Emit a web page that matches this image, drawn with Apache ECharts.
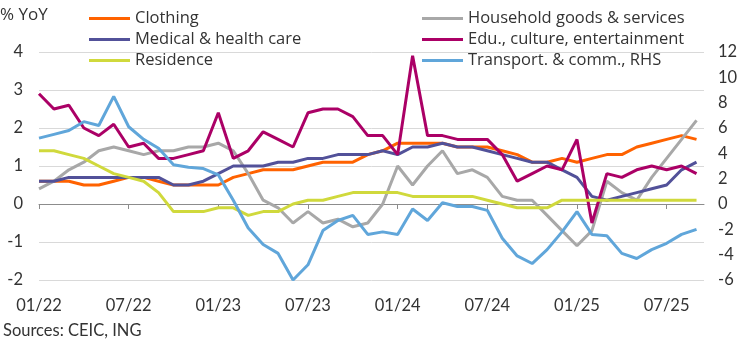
<!DOCTYPE html>
<html>
<head>
<meta charset="utf-8">
<script src="https://cdn.jsdelivr.net/npm/echarts@6/dist/echarts.min.js"></script>
<style>
html,body{margin:0;padding:0;background:#fff;}
#chart{width:744px;height:343px;}
</style>
</head>
<body>
<div id="chart"></div>
<script>
// Months 01/22 .. 09/25
const months = ['01/22','02/22','03/22','04/22','05/22','06/22','07/22','08/22','09/22','10/22','11/22','12/22',
  '01/23','02/23','03/23','04/23','05/23','06/23','07/23','08/23','09/23','10/23','11/23','12/23',
  '01/24','02/24','03/24','04/24','05/24','06/24','07/24','08/24','09/24','10/24','11/24','12/24',
  '01/25','02/25','03/25','04/25','05/25','06/25','07/25','08/25','09/25'];
const tickLabels = ['01/22','07/22','01/23','07/23','01/24','07/24','01/25','07/25'];

const clothing = [0.6,0.6,0.6,0.5,0.5,0.6,0.7,0.7,0.6,0.5,0.5,0.5,
  0.5,0.7,0.8,0.9,0.9,0.9,1.0,1.1,1.1,1.1,1.3,1.4,
  1.6,1.6,1.6,1.6,1.5,1.5,1.5,1.4,1.3,1.1,1.1,1.2,
  1.1,1.2,1.3,1.3,1.5,1.6,1.7,1.8,1.7];
const household = [0.4,0.6,0.9,1.1,1.4,1.5,1.4,1.3,1.4,1.4,1.5,1.5,
  1.6,1.4,0.8,0.1,-0.1,-0.5,-0.2,-0.5,-0.4,-0.6,-0.5,0.0,
  1.0,0.5,1.0,1.4,0.8,0.9,0.7,0.2,0.1,0.1,-0.3,-0.7,
  -1.1,-0.7,0.6,0.3,0.1,0.7,1.2,1.7,2.2];
const medical = [0.6,0.6,0.7,0.7,0.7,0.7,0.7,0.7,0.7,0.5,0.5,0.6,
  0.8,1.0,1.0,1.0,1.1,1.1,1.2,1.2,1.3,1.3,1.3,1.4,
  1.3,1.5,1.5,1.6,1.5,1.5,1.4,1.3,1.2,1.1,1.1,0.9,
  0.7,0.2,0.1,0.2,0.3,0.4,0.5,0.9,1.1];
const education = [2.9,2.5,2.6,2.0,1.8,2.1,1.5,1.6,1.2,1.2,1.3,1.4,
  2.4,1.2,1.4,1.9,1.7,1.5,2.4,2.5,2.5,2.3,1.8,1.8,
  1.3,3.9,1.8,1.8,1.7,1.7,1.7,1.3,0.6,0.8,1.0,0.9,
  1.7,-0.5,0.8,0.7,0.9,1.0,0.9,1.0,0.8];
const residence = [1.4,1.4,1.3,1.2,1.0,0.8,0.7,0.6,0.3,-0.2,-0.2,-0.2,
  -0.1,-0.1,-0.3,-0.2,-0.2,0.0,0.1,0.1,0.2,0.3,0.3,0.3,
  0.3,0.2,0.2,0.2,0.2,0.2,0.1,0.0,-0.1,-0.1,-0.1,0.1,
  0.1,0.1,0.1,0.1,0.1,0.1,0.1,0.1,0.1];
const transport = [5.2,5.5,5.8,6.5,6.2,8.5,6.1,5.1,4.4,3.1,2.9,2.8,
  2.3,0.3,-1.9,-3.2,-3.9,-6.0,-4.8,-2.1,-1.3,-0.9,-2.4,-2.2,
  -2.4,-0.4,-1.3,0.1,-0.2,-0.2,-0.5,-2.7,-4.1,-4.7,-3.6,-2.2,
  -0.6,-2.4,-2.5,-3.9,-4.3,-3.6,-3.1,-2.4,-2.0];

const FONT = 'Lato';
const LFONT = 'Open Sans';
const TXT = '#333333';
const tickIdx = tickLabels.map(l => months.indexOf(l));
const pairs = arr => arr.map((v, i) => [i, v]);

const chart = echarts.init(document.getElementById('chart'), null, {renderer: 'canvas'});
function line(name, data, color, yIdx) {
  return {
    name: name, type: 'line', data: pairs(data), yAxisIndex: yIdx || 0,
    symbol: 'none', showSymbol: false, smooth: false,
    lineStyle: {color: color, width: 3}, itemStyle: {color: color},
    emphasis: {disabled: true}, animation: false
  };
}
const legendCommon = {
  orient: 'vertical', icon: 'rect', itemWidth: 41, itemHeight: 3, itemGap: 0,
  textStyle: {fontFamily: LFONT, fontSize: 16.5, color: TXT, lineHeight: 21},
  selectedMode: false
};
chart.setOption({
  animation: false,
  backgroundColor: '#ffffff',
  grid: {left: 39, right: 40, top: 52, bottom: 63, containLabel: false},
  legend: [
    Object.assign({left: 84, top: 3, data: ['Clothing', 'Medical & health care', 'Residence']}, legendCommon),
    Object.assign({left: 417, top: 3, data: ['Household goods & services', 'Edu., culture, entertainment', 'Transport. & comm., RHS']}, legendCommon)
  ],
  graphic: [
    {type: 'text', left: 0, top: 7, style: {text: '% YoY', font: '17px "' + LFONT + '"', fill: TXT}},
    {type: 'text', left: 3, top: 322, style: {text: 'Sources: CEIC, ING', font: '16.5px ' + FONT, fill: TXT}}
  ],
  xAxis: [
    {
      type: 'value', min: 0, max: 44.5, position: 'bottom',
      axisLine: {show: false, onZero: false},
      axisTick: {show: false},
      splitLine: {show: false},
      axisLabel: {
        customValues: tickIdx, margin: 17,
        fontFamily: FONT, fontSize: 16.5, color: TXT,
        formatter: v => months[Math.round(v)]
      }
    },
    {
      type: 'value', min: 0, max: 44.5, position: 'bottom',
      axisLine: {show: true, onZero: true, onZeroAxisIndex: 0, lineStyle: {color: '#8c8c8c', width: 1}},
      axisTick: {show: true, customValues: tickIdx, length: 5, lineStyle: {color: '#8c8c8c'}},
      axisLabel: {show: false},
      splitLine: {show: false}
    }
  ],
  yAxis: [
    {
      type: 'value', min: -2, max: 4, interval: 1, position: 'left',
      axisLine: {show: false}, axisTick: {show: false},
      splitLine: {show: true, lineStyle: {color: '#d9d9d9', width: 1}},
      axisLabel: {margin: 16, fontFamily: FONT, fontSize: 16.5, color: TXT}
    },
    {
      type: 'value', min: -6, max: 12, interval: 2, position: 'right',
      axisLine: {show: false}, axisTick: {show: false},
      splitLine: {show: false},
      axisLabel: {margin: 14, fontFamily: FONT, fontSize: 16.5, color: TXT}
    }
  ],
  series: [
    line('Clothing', clothing, '#FF6200'),
    line('Household goods & services', household, '#A8A8A8'),
    line('Medical & health care', medical, '#525199'),
    line('Edu., culture, entertainment', education, '#AB0066'),
    line('Residence', residence, '#D0D93C'),
    line('Transport. & comm., RHS', transport, '#60A6DA', 1)
  ]
});
</script>
</body>
</html>
